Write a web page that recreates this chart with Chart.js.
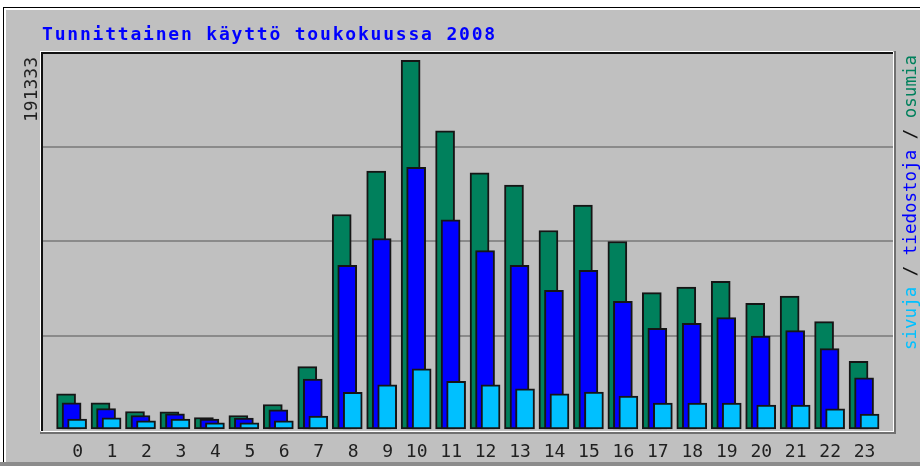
<!DOCTYPE html>
<html>
<head>
<meta charset="utf-8">
<script src="https://cdn.jsdelivr.net/npm/chart.js@4"></script>
<style>
  html, body { margin: 0; padding: 0; background: #fff; }
</style>
</head>
<body>
<canvas id="chart" width="920" height="466"></canvas>
<script>
const TITLE = 'Tunnittainen käyttö toukokuussa 2008';

const hours = [0, 1, 2, 3, 4, 5, 6, 7, 8, 9, 10, 11, 12, 13, 14, 15, 16, 17, 18, 19, 20, 21, 22, 23];
const hourLabels = hours.map(String);

// osumia = hits, tiedostoja = files, sivuja = pages
const osumia = [18760, 14100, 9590, 9430, 6480, 7510, 13210, 32800, 111520, 133950, 191333, 154840,
                133070, 126700, 103220, 116340, 97530, 71100, 74000, 76950, 65550, 69330, 56070, 35500];
const tiedostoja = [14100, 11140, 7510, 8390, 5600, 6110, 10470, 26320, 85240, 99080, 135870, 108720,
                    92860, 85240, 72290, 82650, 66590, 52600, 55190, 58140, 48610, 51400, 42080, 27050];
const sivuja = [5600, 6320, 4770, 5600, 3730, 3730, 4770, 7250, 19430, 23420, 31710, 25130,
                23420, 21350, 18760, 19590, 17520, 13890, 13890, 13890, 12850, 12850, 10990, 8190];

const Y_MAX = 195600;
const topLabel = String(Math.max(...osumia));

const legendParts = [
  ['sivuja', '#00c0ff'],
  [' / ', '#111'],
  ['tiedostoja', '#0000ff'],
  [' / ', '#111'],
  ['osumia', '#00805c'],
];

const MONO = '"DejaVu Sans Mono", monospace';

const frame = {
  id: 'frame',
  beforeDraw(chart) {
    const { ctx, width, height } = chart;
    ctx.save();
    ctx.fillStyle = '#fff';
    ctx.fillRect(0, 0, width, height);
    ctx.fillStyle = '#c0c0c0';
    ctx.fillRect(3, 7, width - 3, height - 7);
    ctx.fillStyle = '#000';
    ctx.fillRect(3, 7, width - 3, 1);
    ctx.fillRect(3, 7, 1, height - 7);
    ctx.fillStyle = '#fff';
    ctx.fillRect(4, 8, width - 4, 2);
    ctx.fillRect(4, 8, 2, height - 8);
    ctx.fillStyle = '#8c8c8c';
    ctx.fillRect(0, 462, width, 4);

    // title
    ctx.fillStyle = '#0000ff';
    ctx.font = 'bold 18px ' + MONO;
    ctx.letterSpacing = '1.8px';
    ctx.textBaseline = 'alphabetic';
    ctx.fillText(TITLE, 42, 40);
    ctx.letterSpacing = '0px';

    // max value on the left
    ctx.save();
    ctx.translate(32, 122);
    ctx.rotate(-Math.PI / 2);
    ctx.font = '18px ' + MONO;
    ctx.fillStyle = '#222';
    ctx.textBaseline = 'middle';
    ctx.fillText(topLabel, 0, 0);
    ctx.restore();

    // legend on the right
    ctx.save();
    ctx.translate(911, 350);
    ctx.rotate(-Math.PI / 2);
    ctx.font = '17.5px ' + MONO;
    ctx.textBaseline = 'middle';
    let x = 0;
    legendParts.forEach(([t, c]) => {
      ctx.fillStyle = c;
      ctx.fillText(t, x, 0);
      x += ctx.measureText(t).width;
    });
    ctx.restore();
    ctx.restore();
  },
  afterDraw(chart) {
    const { ctx, chartArea: a } = chart;
    const w = a.right - a.left;
    const h = a.bottom - a.top;
    ctx.save();
    ctx.fillStyle = '#fff';
    ctx.fillRect(a.left - 3, a.top - 1, w + 3, 1);
    ctx.fillRect(a.left - 3, a.top - 1, 1, h + 2);
    ctx.fillStyle = '#111';
    ctx.fillRect(a.left - 2, a.top, w + 2, 2);
    ctx.fillRect(a.left - 2, a.top, 2, h + 1);
    ctx.fillStyle = '#fff';
    ctx.fillRect(a.left - 2, a.bottom + 1, w + 3, 1);
    ctx.fillRect(a.right, a.top, 1, h + 2);
    ctx.fillStyle = '#707070';
    ctx.fillRect(a.left - 3, a.bottom + 2, w + 6, 2);
    ctx.fillRect(a.right + 1, a.top - 1, 2, h + 5);
    ctx.restore();
  },
};

function barSet(values, shift, color) {
  return {
    data: values.map((v, i) => ({ x: hours[i] + shift, y: v })),
    backgroundColor: color,
    borderColor: '#151515',
    borderWidth: 2,
    borderSkipped: false,
    barThickness: 19,
    grouped: false,
  };
}

new Chart(document.getElementById('chart').getContext('2d'), {
  type: 'bar',
  data: {
    datasets: [
      barSet(sivuja, -0.17, '#00c0ff'),
      barSet(tiedostoja, -0.33, '#0000ff'),
      barSet(osumia, -0.49, '#00805c'),
    ],
  },
  plugins: [frame],
  options: {
    responsive: false,
    animation: false,
    layout: { autoPadding: false, padding: { left: 43, top: 52, right: 27, bottom: 6 } },
    plugins: {
      legend: { display: false },
      title: { display: false },
      tooltip: { enabled: false },
    },
    scales: {
      x: {
        type: 'linear',
        offset: false,
        min: -1.16,
        max: 23.51,
        grid: { display: false, drawTicks: false, offset: false },
        border: { display: false },
        afterBuildTicks: (scale) => { scale.ticks = hours.map(h => ({ value: h })); },
        afterFit: (scale) => { scale.height = 30; },
        ticks: {
          autoSkip: false,
          maxRotation: 0,
          align: 'end',
          padding: 12,
          color: '#202020',
          font: { family: MONO, size: 18 },
          callback: (value, index) => hourLabels[index],
        },
      },
      y: {
        min: 0,
        max: Y_MAX,
        grid: {
          drawTicks: false,
          lineWidth: 2,
          color: (c) => (c.tick && c.tick.value > 0 && c.tick.value < Y_MAX) ? '#8a8a8a' : 'rgba(0,0,0,0)',
        },
        border: { display: false },
        afterFit: (scale) => { scale.width = 0; },
        ticks: { display: false, stepSize: Y_MAX / 4 },
      },
    },
  },
});
</script>
</body>
</html>
